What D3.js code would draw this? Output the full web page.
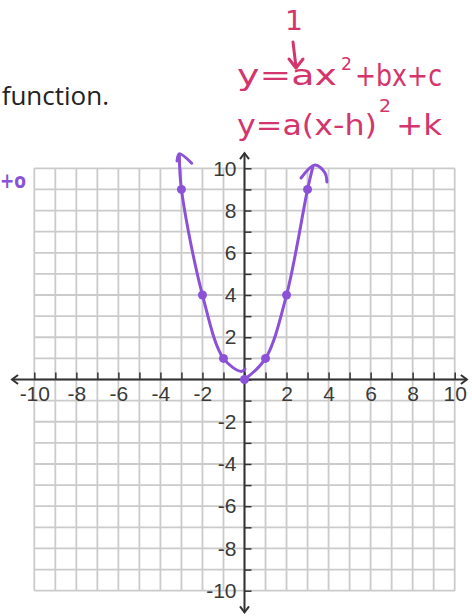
<!DOCTYPE html>
<html>
<head>
<meta charset="utf-8">
<script src="https://cdn.jsdelivr.net/npm/d3@7"></script>
<style>
  html, body { margin: 0; padding: 0; background: #fff; }
  svg { display: block; }
</style>
</head>
<body>
<svg id="chart" width="472" height="616"></svg>
<script>
// Grid ticks and axis labels
const tickValues = [-10,-9,-8,-7,-6,-5,-4,-3,-2,-1,0,1,2,3,4,5,6,7,8,9,10];
const labelValues = [-10,-8,-6,-4,-2,2,4,6,8,10];

// Plotted points of y = x^2
const pointX = [-3,-2,-1,0,1,2,3];
const pointY = [9,4,1,0,1,4,9];

// Hand-drawn strokes through the points (left branch, right branch)
const leftStrokeX = [-3.1,-3,-2,-1,-0.15,0.02];
const leftStrokeY = [10.68,9,4,1,0.38,0.5];
const rightStrokeX = [0,1,2,3,3.25];
const rightStrokeY = [0,1,4,9,10.07];

// Arrowheads at the ends of the curve
const leftHeadX = [-3.21,-3.1,-2.51];
const leftHeadY = [10.35,10.68,10.24];
const rightHeadX = [2.69,3.35,3.83,3.92];
const rightHeadY = [9.54,10.16,9.78,9.35];

// Axis extents including arrow tips
const axisXExtent = [-11.06, 10.58];
const axisYExtent = [-11.03, 10.72];

const svg = d3.select("#chart");
const purple = "#8b52d8";
const pink = "#d3356c";

const x = d3.scaleLinear().domain([-10, 10]).range([34.3, 454.7]);
const y = d3.scaleLinear().domain([-10, 10]).range([590.7, 168.3]);

// Grid
const grid = svg.append("g").attr("stroke", "#cbcbcb").attr("stroke-width", 1.8);
grid.selectAll("line.v").data(tickValues).join("line")
  .attr("x1", d => x(d)).attr("x2", d => x(d))
  .attr("y1", y(-10)).attr("y2", y(10));
grid.selectAll("line.h").data(tickValues).join("line")
  .attr("y1", d => y(d)).attr("y2", d => y(d))
  .attr("x1", x(-10)).attr("x2", x(10));

const axisColor = "#333";
const fmt = d => labelValues.includes(d) ? String(d) : "";

// x axis: ticks upward, labels below
const gx = svg.append("g")
  .attr("transform", `translate(0,${y(0)})`)
  .call(d3.axisBottom(x).tickValues(tickValues).tickSizeInner(-7).tickSizeOuter(0).tickPadding(7).tickFormat(fmt));
// y axis: ticks to the right, labels on the left
const gy = svg.append("g")
  .attr("transform", `translate(${x(0)},0)`)
  .call(d3.axisLeft(y).tickValues(tickValues).tickSizeInner(-7).tickSizeOuter(0).tickPadding(8).tickFormat(fmt));

[gx, gy].forEach(g => {
  g.select(".domain").remove();
  g.selectAll(".tick line").attr("stroke", axisColor).attr("stroke-width", 1.5);
  g.selectAll(".tick text")
    .attr("fill", "#3a3a3a")
    .style("font-family", "'Liberation Sans', Arial, sans-serif")
    .style("font-size", "21px");
});

// Axis lines with open arrowheads
const axes = svg.append("g").attr("stroke", axisColor).attr("stroke-width", 2).attr("fill", "none");
axes.append("line").attr("x1", x(axisXExtent[0])).attr("x2", x(axisXExtent[1])).attr("y1", y(0)).attr("y2", y(0));
axes.append("line").attr("x1", x(0)).attr("x2", x(0)).attr("y1", y(axisYExtent[0])).attr("y2", y(axisYExtent[1]));
const ah = 6, aw = 4.5;
const xl = x(axisXExtent[0]), xr = x(axisXExtent[1]), y0 = y(0);
const yt = y(axisYExtent[1]), yb = y(axisYExtent[0]), x0 = x(0);
axes.append("path").attr("d", `M${xl + ah},${y0 - aw}L${xl},${y0}L${xl + ah},${y0 + aw}`);
axes.append("path").attr("d", `M${xr - ah},${y0 - aw}L${xr},${y0}L${xr - ah},${y0 + aw}`);
axes.append("path").attr("d", `M${x0 - aw},${yt + ah}L${x0},${yt}L${x0 + aw},${yt + ah}`);
axes.append("path").attr("d", `M${x0 - aw},${yb - ah}L${x0},${yb}L${x0 + aw},${yb - ah}`);

// Parabola strokes
const line = d3.line().x(d => x(d[0])).y(d => y(d[1])).curve(d3.curveCatmullRom.alpha(0.5));
const zip = (a, b) => a.map((v, i) => [v, b[i]]);
const curve = svg.append("g").attr("fill", "none").attr("stroke", purple)
  .attr("stroke-width", 3).attr("stroke-linecap", "round").attr("stroke-linejoin", "round");
curve.append("path").attr("d", line(zip(leftStrokeX, leftStrokeY)));
curve.append("path").attr("d", line(zip(rightStrokeX, rightStrokeY)));
curve.append("path").attr("d", line(zip(leftHeadX, leftHeadY)));
curve.append("path").attr("d", line(zip(rightHeadX, rightHeadY)));

svg.append("g").attr("fill", purple)
  .selectAll("circle").data(zip(pointX, pointY)).join("circle")
  .attr("cx", d => x(d[0])).attr("cy", d => y(d[1])).attr("r", 4.5);

// Text above the grid
svg.append("text").attr("x", 109).attr("y", 105).attr("text-anchor", "end")
  .attr("fill", "#222").style("font-family", "'Open Sans', 'Noto Sans', sans-serif")
  .style("font-size", "26px").text("function.");

svg.append("text").attr("x", 0).attr("y", 188)
  .attr("textLength", 26).attr("lengthAdjust", "spacingAndGlyphs")
  .attr("fill", purple).style("font-family", "'DejaVu Sans', sans-serif")
  .style("font-size", "21px").style("font-weight", "bold").text("+o");

// Pink notes: vertex and standard forms
const notes = svg.append("g").attr("fill", pink).style("font-family", "'DejaVu Sans', sans-serif");
const note = (t, px, py, size, len) => notes.append("text")
  .attr("x", px).attr("y", py).style("font-size", size + "px")
  .attr("textLength", len).attr("lengthAdjust", "spacingAndGlyphs").text(t);
note("1", 285, 30, 27, 18);
note("y=ax", 237, 85, 28, 100);
note("2", 341, 70, 17, 11);
note("+bx+c", 355, 86, 30, 87);
note("y=a(x-h)", 237, 135, 28, 140);
note("2", 379, 112, 17, 12);
note("+k", 396, 135, 29, 46);

// Arrow pointing from the 1 to a
svg.append("path")
  .attr("d", "M293,42L296,67M289,59L296,68L303,59")
  .attr("fill", "none").attr("stroke", pink).attr("stroke-width", 3)
  .attr("stroke-linecap", "round").attr("stroke-linejoin", "round");
</script>
</body>
</html>
